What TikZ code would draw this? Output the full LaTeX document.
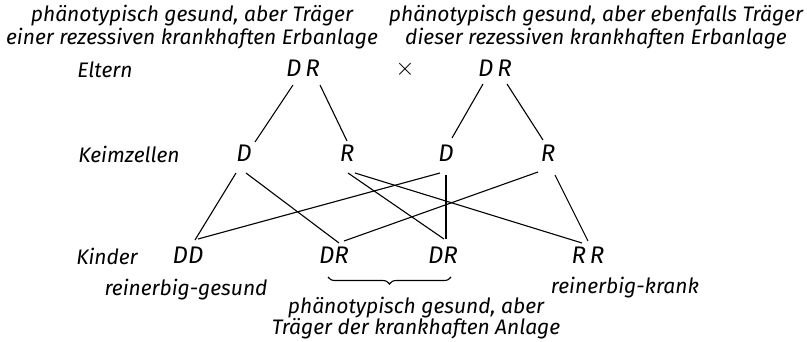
\documentclass[tikz,border=0pt]{standalone}
\usepackage{fontspec}
\setmainfont{Fira Sans}
\usetikzlibrary{calc,decorations.pathreplacing}

\tikzset{
  txt/.style={font=\fontsize{21}{23}\selectfont\itshape, align=center, inner sep=0pt},
  gen/.style={font=\fontsize{24}{24}\selectfont\itshape, inner sep=0pt},
  linie/.style={line width=1.1pt},
}

\begin{document}
\begin{tikzpicture}[x=1pt,y=-1pt]
  \useasboundingbox (0,0) rectangle (807,342);
  % Beschriftung der Eltern
  \node[txt] (notizL) at (192,27) {phänotypisch gesund, aber Träger\\einer rezessiven krankhaften Erbanlage};
  \node[txt] (notizR) at (596,27) {phänotypisch gesund, aber ebenfalls Träger\\dieser rezessiven krankhaften Erbanlage};
  % Generationen
  \node[txt] (eltern) at (105,70) {Eltern};
  \node[txt] (keim) at (129,154) {Keimzellen};
  \node[txt] (kinder) at (107,256) {Kinder};
  % Eltern
  \node[gen] (eltL) at (303,68) {D\,R};
  \node[gen,font=\fontsize{28}{28}\selectfont] (kreuz) at (405,69) {$\times$};
  \node[gen] (eltR) at (495,68) {D\,R};
  % Keimzellen
  \node[gen] (gDl) at (244,153) {D};
  \node[gen] (gRl) at (347,153) {R};
  \node[gen] (gDr) at (446,153) {D};
  \node[gen] (gRr) at (548,153) {R};
  % Kinder
  \node[gen] (kDD) at (188,255) {DD};
  \node[gen] (kDR1) at (334,255) {DR};
  \node[gen] (kDR2) at (443,255) {DR};
  \node[gen] (kRR) at (588,255) {R\,R};
  \node[txt] (gesund) at (186,290) {reinerbig-gesund};
  \node[txt] (krank) at (625,288) {reinerbig-krank};
  \node[txt,font=\fontsize{21}{20}\selectfont\itshape] (traeger) at (416,318) {phänotypisch gesund, aber\\Träger der krankhaften Anlage};

  % Eltern -> Keimzellen
  \draw[linie] ($(eltL)+(-10,17)$) -- ($(gDl)+(11,-11)$);
  \draw[linie] ($(eltL)+(17,17)$) -- ($(gRl)+(0,-12)$);
  \draw[linie] ($(eltR)+(-12,16)$) -- ($(gDr)+(6,-15)$);
  \draw[linie] ($(eltR)+(12,16)$) -- ($(gRr)+(-5,-13)$);
  % Keimzellen -> Kinder
  \draw[linie] ($(gDl)+(-8,20)$) -- ($(kDD)+(7,-15)$);
  \draw[linie] ($(gDl)+(2,20)$) -- ($(kDR1)+(5,-12)$);
  \draw[linie] ($(gRl)+(1,20)$) -- ($(kDR2)+(1,-16)$);
  \draw[linie] ($(gRl)+(8,20)$) -- ($(kRR)+(-6,-12)$);
  \draw[linie] ($(gDr)+(-6,20)$) -- ($(kDD)+(10,-16)$);
  \draw[linie] ($(gDr)+(0,22)$) -- ($(kDR2)+(3,-16)$);
  \draw[linie] ($(gRr)+(-10,19)$) -- ($(kDR1)+(10,-14)$);
  \draw[linie] ($(gRr)+(7,22)$) -- ($(kRR)+(0,-14)$);
  % Klammer unter den Mischlingen
  \draw[linie,decorate,decoration={brace,mirror,amplitude=7pt}]
    ($(kDR1)+(-6,22)$) -- ($(kDR2)+(8,22)$);
\end{tikzpicture}
\end{document}
